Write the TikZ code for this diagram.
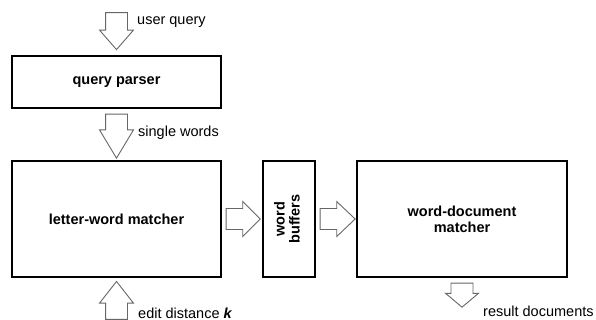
\documentclass[tikz,border=0pt]{standalone}
\usepackage{fontspec}
\setmainfont{Liberation Sans}
\usetikzlibrary{shapes.arrows,positioning,calc}

\tikzset{
  block/.style={draw=black, line width=1.4pt, inner sep=0pt, align=center,
    font=\fontsize{14.5}{16}\selectfont\bfseries},
  fatarrow/.style={draw=black!60, line width=0.9pt, single arrow,
    single arrow head extend=6pt, minimum width=33pt, inner xsep=0pt, inner ysep=10.5pt},
  arrowtext/.style={anchor=west, inner sep=0pt, font=\fontsize{14.5}{16}\selectfont}
}

\begin{document}
\begin{tikzpicture}[x=1pt, y=-1pt]
    \useasboundingbox (0,0) rectangle (596,320);

    % processing blocks
    \node[block, minimum width=209pt, minimum height=52pt] (qp) at (116.5,82) {query parser};
    \node[block, minimum width=209pt, minimum height=116pt] (lw) at (116.5,219) {letter-word matcher};
    \node[block, minimum width=52pt, minimum height=116pt] (wb) at (289,219) {\rotatebox{90}{\begin{tabular}{@{}c@{}}word\\[-1pt]buffers\end{tabular}}};
    \node[block, minimum width=210pt, minimum height=116pt] (wdm) at (462,219) {word-document\\[0pt]matcher};

    % block arrows
    \node[fatarrow, rotate=-90, minimum height=37pt, single arrow tip angle=82, anchor=tip] (uq) at ([yshift=5pt]qp.north) {};
    \node[fatarrow, rotate=-90, minimum height=44pt, single arrow tip angle=62, anchor=tail] (sw) at ([yshift=-5pt]qp.south) {};
    \node[fatarrow, rotate=90, minimum height=38pt, single arrow tip angle=76, anchor=tip] (ed) at ([yshift=-3pt]lw.south) {};
    \node[fatarrow, minimum height=34pt, inner ysep=10pt, single arrow head extend=7pt, single arrow tip angle=90, anchor=tail] (lwb) at ([xshift=4pt]lw.east) {};
    \node[fatarrow, minimum height=35pt, inner ysep=10pt, single arrow head extend=7pt, single arrow tip angle=87, anchor=tail] (wbd) at ([xshift=4pt]wb.east) {};
    \node[fatarrow, rotate=-90, minimum height=24pt, single arrow head extend=5.5pt, single arrow tip angle=100, anchor=tail] (rd) at ([yshift=-5pt]wdm.south) {};

    % arrow labels
    \node[arrowtext] (uqt) at (137,22) {user query};
    \node[arrowtext] (swt) at (138,133) {single words};
    \node[arrowtext] (edt) at (138,313) {edit distance \textbf{\textit{k}}};
    \node[arrowtext] (rdt) at (483,311) {result documents};
\end{tikzpicture}
\end{document}
